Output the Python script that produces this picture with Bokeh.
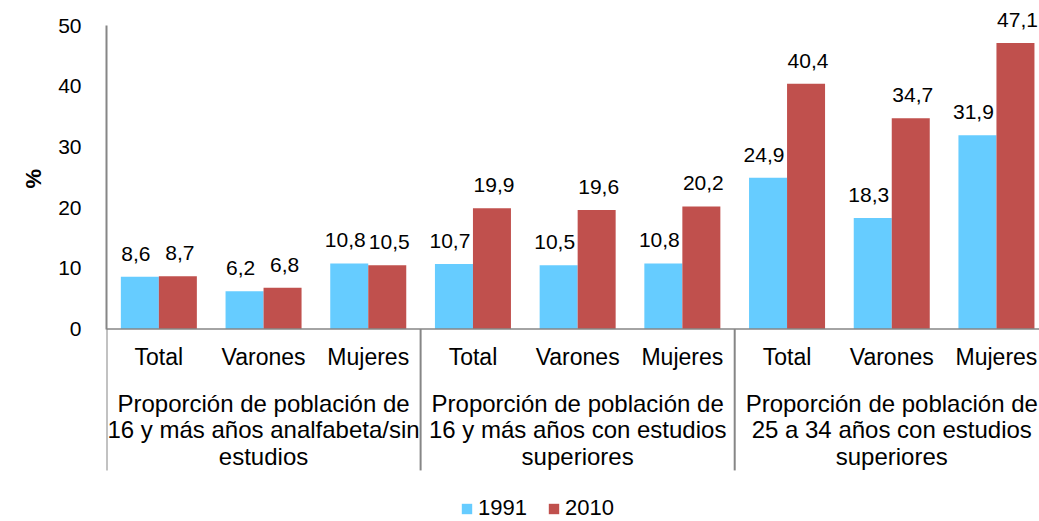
import numpy as np
from bokeh.plotting import figure
from bokeh.models import Range1d, FixedTicker, Span, ColumnDataSource, Legend, LegendItem, Title
from bokeh.core.properties import value
from bokeh.transform import dodge
from bokeh.embed import file_html
from bokeh.resources import INLINE

# ---- data ----
categories = ["Total", "Varones", "Mujeres", "Total", "Varones", "Mujeres", "Total", "Varones", "Mujeres"]
groups = [
    "Proporción de población de\n16 y más años analfabeta/sin\nestudios",
    "Proporción de población de\n16 y más años con estudios\nsuperiores",
    "Proporción de población de\n25 a 34 años con estudios\nsuperiores",
]
years = ["1991", "2010"]
v1991 = [8.6, 6.2, 10.8, 10.7, 10.5, 10.8, 24.9, 18.3, 31.9]
v2010 = [8.7, 6.8, 10.5, 19.9, 19.6, 20.2, 40.4, 34.7, 47.1]
y_ticks = [0, 10, 20, 30, 40, 50]

# ---- style ----
FONT = value("Liberation Sans")
C1991 = "#66CCFF"
C2010 = "#C0504D"
GRAY = "#868686"
bw = 0.363
PX = 6.07  # pixels per unit

def fmt(v):
    return f"{v:.1f}".replace(".", ",")

n = len(categories)
xs = np.arange(n) + 0.5
src = ColumnDataSource(dict(
    x=xs, cat=categories, v1991=v1991, v2010=v2010,
    l1991=[fmt(v) for v in v1991], l2010=[fmt(v) for v in v2010],
))

W, H = 1039, 521
top = 50 + 25 / PX
bottom = top - H / PX
p = figure(width=W, height=H, output_backend="svg", toolbar_location=None,
           x_range=Range1d(0, (W - 106) / 104.7), y_range=Range1d(bottom, top),
           x_axis_location=None,
           min_border_left=106, min_border_right=0, min_border_top=0, min_border_bottom=0)
p.outline_line_color = None
p.grid.visible = False
p.background_fill_color = "white"

r1 = p.vbar(x=dodge("x", -bw / 2), top="v1991", width=bw, fill_color=C1991,
            line_color=None, source=src)
r2 = p.vbar(x=dodge("x", bw / 2), top="v2010", width=bw, fill_color=C2010,
            line_color=None, source=src)

for col, lab, off, xo in (("v1991", "l1991", -bw / 2, -4), ("v2010", "l2010", bw / 2, 2)):
    p.text(x=dodge("x", off), y=col, text=lab, source=src, text_align="center",
           text_baseline="alphabetic", x_offset=xo, y_offset=-23, text_font=FONT,
           text_font_size="21px", text_color="#000000")

# x axis line at zero
p.add_layout(Span(location=0, dimension="width", line_color=GRAY, line_width=1.5))

# category labels
p.text(x="x", y=0, text="cat", source=src, text_align="center", text_baseline="middle",
       y_offset=28, text_font=FONT, text_font_size="23px", text_color="#000000")

# group labels
gsize = 3
gx = np.arange(len(groups)) * gsize + gsize / 2
p.text(x=gx, y=[0] * len(groups), text=groups, text_align="center", text_baseline="middle",
       y_offset=101, text_line_height=0.98, text_font=FONT, text_font_size="24px",
       text_color="#000000")

# group separators
sx = np.arange(len(groups)) * gsize
p.segment(x0=sx, y0=[0] * len(sx), x1=sx, y1=[-23.3] * len(sx), line_color=GRAY, line_width=2)

# y axis
ya = p.yaxis[0]
ya.ticker = FixedTicker(ticks=y_ticks)
ya.bounds = (0, 50)
ya.axis_line_color = GRAY
ya.axis_line_width = 2
ya.major_tick_line_color = None
ya.minor_tick_line_color = None
ya.major_label_standoff = 19
ya.major_label_text_font = "Liberation Sans"
ya.major_label_text_font_size = "21px"
ya.major_label_text_color = "#000000"

p.add_layout(Title(text="%", align="left", offset=333, standoff=20,
                   text_font="Liberation Sans", text_font_style="bold",
                   text_font_size="22px", text_color="#000000"), "left")

legend = Legend(items=[LegendItem(label=years[0], renderers=[r1]),
                       LegendItem(label=years[1], renderers=[r2])],
                orientation="horizontal", location=(354, 0),
                glyph_width=13, glyph_height=13, label_standoff=5, spacing=20,
                padding=0, margin=0, border_line_color=None, background_fill_alpha=0,
                label_text_font="Liberation Sans", label_text_font_size="22px",
                label_text_color="#000000")
p.add_layout(legend)

open("out.html", "w").write(file_html(p, INLINE))
